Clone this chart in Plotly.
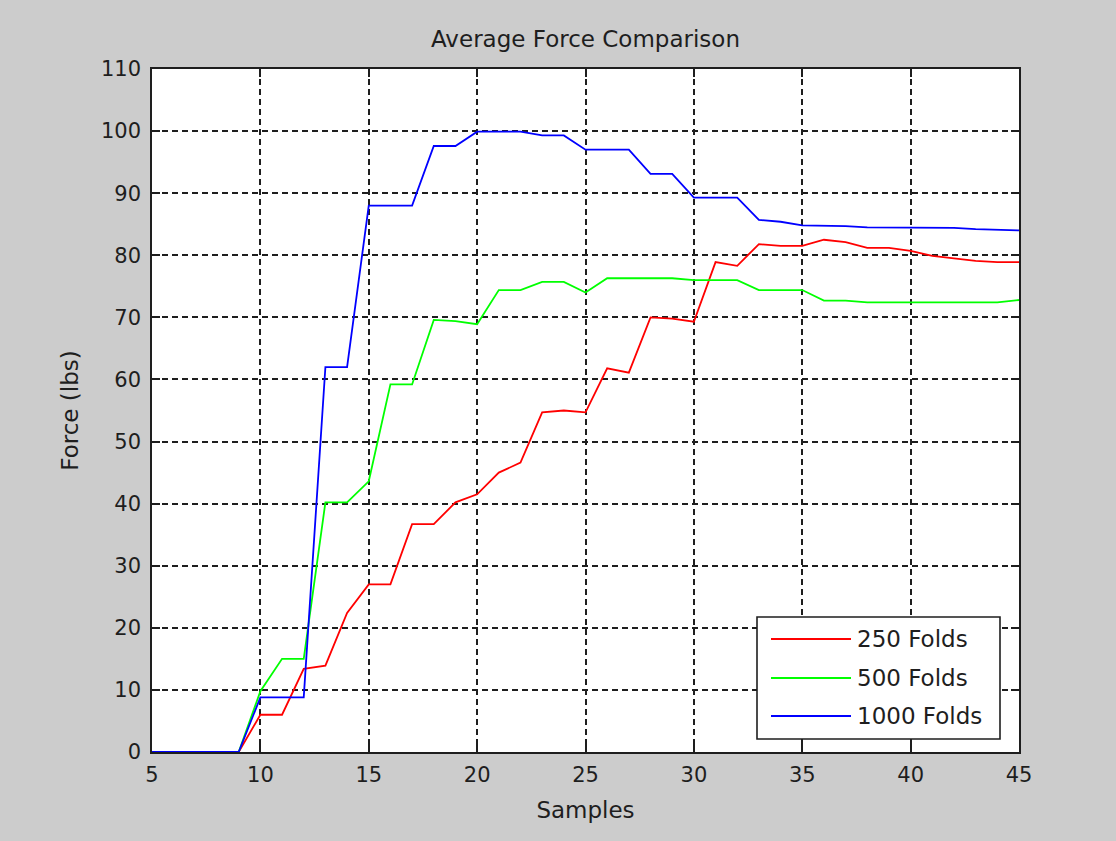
import plotly.graph_objects as go

samples = list(range(5, 46))

force_250 = [0, 0, 0, 0, 0, 6.0, 6.0, 13.4, 13.9, 22.4, 27.0, 27.0, 36.7, 36.7, 40.2, 41.5,
             45.0, 46.6, 54.7, 55.0, 54.7, 61.8, 61.1, 70.0, 69.8, 69.3, 78.9, 78.3, 81.8,
             81.5, 81.5, 82.5, 82.1, 81.2, 81.2, 80.7, 79.9, 79.5, 79.1, 78.9, 78.9]
force_500 = [0, 0, 0, 0, 0, 9.8, 15.0, 15.0, 40.2, 40.2, 43.6, 59.2, 59.2, 69.6, 69.4, 68.9,
             74.4, 74.4, 75.7, 75.7, 74.0, 76.3, 76.3, 76.3, 76.3, 76.0, 76.0, 76.0, 74.4,
             74.4, 74.4, 72.7, 72.7, 72.4, 72.4, 72.4, 72.4, 72.4, 72.4, 72.4, 72.8]
force_1000 = [0, 0, 0, 0, 0, 8.8, 8.8, 8.8, 62.0, 62.0, 88.0, 88.0, 88.0, 97.6, 97.6, 99.9,
              99.9, 99.9, 99.3, 99.3, 97.0, 97.0, 97.0, 93.1, 93.1, 89.3, 89.3, 89.3, 85.7,
              85.4, 84.8, 84.8, 84.7, 84.5, 84.5, 84.5, 84.5, 84.4, 84.2, 84.1, 84.0]

series_names = ["250 Folds", "500 Folds", "1000 Folds"]
series_values = [force_250, force_500, force_1000]
series_colors = ["#ff0000", "#00ff00", "#0000ff"]

x_ticks = [5, 10, 15, 20, 25, 30, 35, 40, 45]
y_ticks = [0, 10, 20, 30, 40, 50, 60, 70, 80, 90, 100, 110]

FONT = "DejaVu Sans"
TXT = "#1e1e1e"
AX = "#1e1e1e"

W, H = 1116, 841
ML, MR, MT, MB = 152, 97, 69, 89

fig = go.Figure()
for name, vals, col in zip(series_names, series_values, series_colors):
    fig.add_trace(go.Scatter(x=samples, y=vals, mode="lines", name=name,
                             line=dict(color=col, width=1.8), showlegend=False))

axis_common = dict(
    showline=True, linecolor=AX, linewidth=1.6, mirror="ticks",
    ticks="inside", ticklen=8, tickcolor=AX, tickwidth=1.6,
    showgrid=True, gridcolor=AX, gridwidth=1.6, griddash="6px,4px",
    zeroline=False, tickfont=dict(family=FONT, size=21, color=TXT),
)

fig.update_xaxes(range=[5, 45], tickvals=x_ticks, ticktext=[str(v) for v in x_ticks],
                 ticklabelstandoff=3,
                 title=dict(text="Samples", font=dict(family=FONT, size=23, color=TXT), standoff=16),
                 **axis_common)
fig.update_yaxes(range=[0, 110], tickvals=y_ticks, ticktext=[str(v) for v in y_ticks],
                 ticklabelstandoff=5,
                 title=dict(text="Force (lbs)", font=dict(family=FONT, size=23, color=TXT), standoff=16),
                 **axis_common)

# Legend (drawn like the MATLAB legend box)
pw, ph = W - ML - MR, H - MT - MB
def px_x(p):
    return (p - ML) / pw
def px_y(p):
    return (H - MB - p) / ph

shapes = [dict(type="rect", xref="paper", yref="paper",
               x0=px_x(757), x1=px_x(1000), y0=px_y(739), y1=px_y(617),
               line=dict(color=AX, width=1.6), fillcolor="white", layer="above")]
annotations = []
entry_y = [639, 678, 716]
for name, col, ey in zip(series_names, series_colors, entry_y):
    shapes.append(dict(type="line", xref="paper", yref="paper",
                       x0=px_x(771), x1=px_x(851), y0=px_y(ey), y1=px_y(ey),
                       line=dict(color=col, width=1.8), layer="above"))
    annotations.append(dict(xref="paper", yref="paper", x=px_x(855), y=px_y(ey),
                            text=name, showarrow=False, xanchor="left", yanchor="middle",
                            font=dict(family=FONT, size=23, color=TXT)))

fig.update_layout(
    width=W, height=H,
    margin=dict(l=ML, r=MR, t=MT, b=MB),
    paper_bgcolor="#cccccc", plot_bgcolor="white",
    title=dict(text="Average Force Comparison", x=0.5, xref="paper", xanchor="center",
               y=1 - 39 / H, yref="container", yanchor="middle",
               font=dict(family=FONT, size=23, color=TXT)),
    shapes=shapes, annotations=annotations,
    showlegend=False,
)

fig.write_html(
    "out.html",
    config={"displayModeBar": False},
    post_script="document.body.style.margin='0';document.body.style.background='#cccccc';"
                "document.body.style.overflow='hidden';",
)
